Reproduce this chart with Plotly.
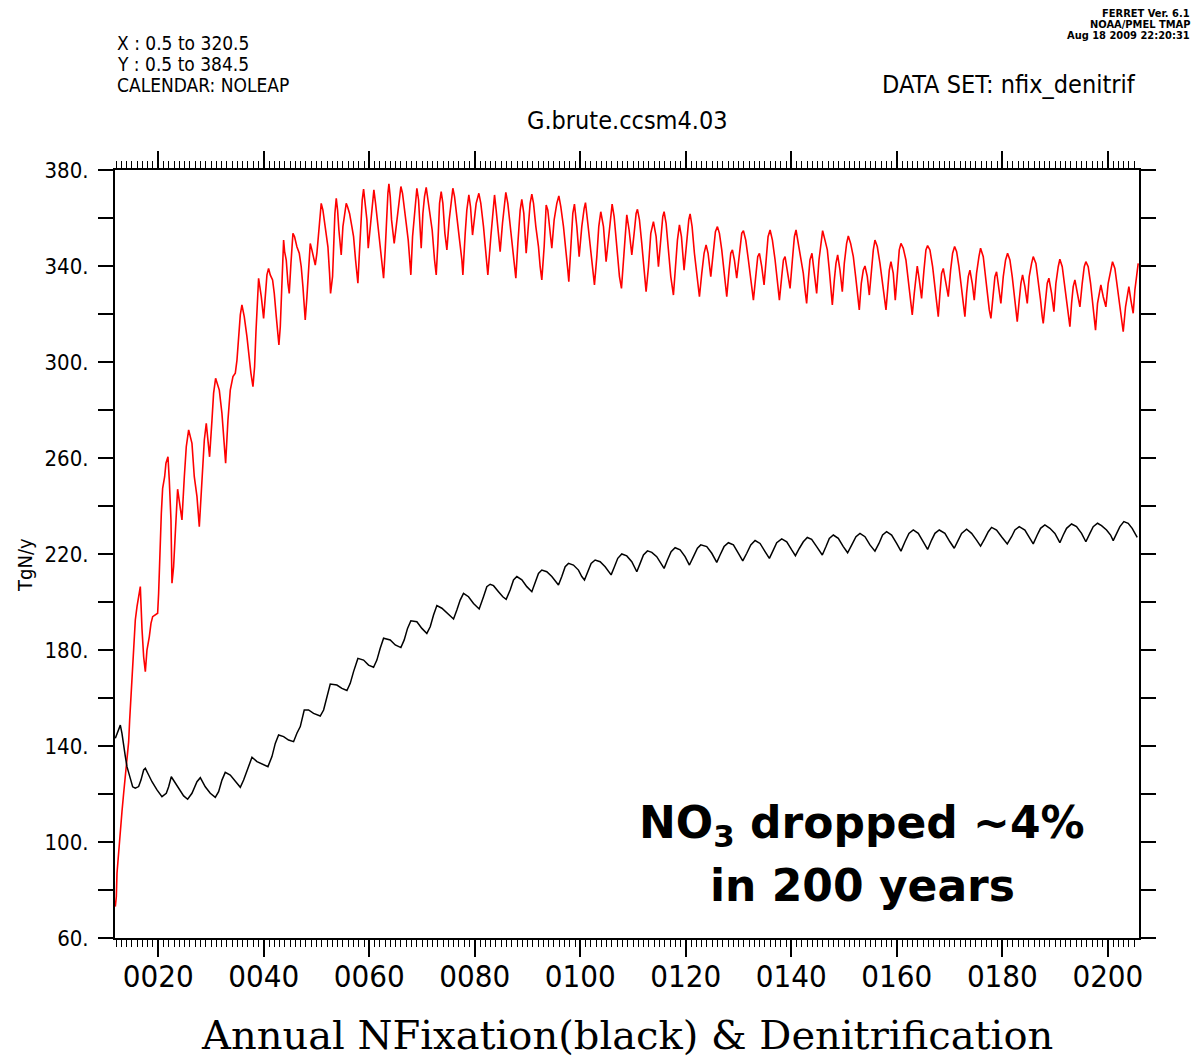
import plotly.graph_objects as go

# ---- Denitrification (red) ----
red_year = [11.86, 12.05, 12.18, 12.49, 12.81, 13.12, 13.44, 13.76, 14.07, 14.39, 14.58, 15.02, 15.34, 15.65, 15.97,
            16.28, 16.60, 16.91, 17.23, 17.55, 17.86, 18.30, 18.62, 18.94, 19.44, 19.88, 20.07, 20.26, 20.58, 20.83,
            21.21, 21.46, 21.84, 22.09, 22.41, 22.60, 22.91, 23.23, 23.67, 24.05, 24.49, 24.94, 25.31, 25.76, 26.39,
            26.83, 27.34, 27.78, 28.28, 28.73, 29.10, 29.36, 29.73, 30.18, 30.49, 30.87, 31.57, 32.07, 32.51, 32.77,
            33.21, 33.65, 34.16, 34.60, 34.92, 35.23, 35.55, 35.86, 36.30, 36.81, 37.25, 37.57, 37.95, 38.26, 38.52,
            38.83, 39.02, 39.21, 39.53, 39.97, 40.28, 40.60, 40.91, 41.23, 41.67, 41.99, 42.37, 42.68, 42.87, 43.13,
            43.32, 43.57, 43.76, 43.95, 44.26, 44.58, 44.83, 45.15, 45.53, 45.84, 46.28, 46.73, 47.10, 47.42, 47.67,
            47.86, 48.18, 48.49, 48.81, 49.12, 49.44, 49.76, 50.07, 50.39, 50.70, 50.89, 51.21, 51.46, 51.78, 52.16,
            52.47, 52.66, 53.04, 53.23, 53.48, 53.74, 53.99, 54.24, 54.49, 54.68, 55.00, 55.31, 55.63, 55.88, 56.26,
            56.70, 57.02, 57.40, 57.65, 57.84, 58.09, 58.41, 58.66, 58.92, 59.23, 59.55, 59.80, 60.05, 60.37, 60.62,
            60.87, 61.19, 61.57, 61.95, 62.26, 62.58, 62.71, 63.02, 63.27, 63.53, 63.72, 63.97, 64.22, 64.47, 64.72,
            65.10, 65.42, 65.74, 65.99, 66.30, 66.62, 67.00, 67.38, 67.63, 67.88, 68.20, 68.52, 68.83, 69.02, 69.34,
            69.65, 69.84, 70.16, 70.47, 70.79, 71.17, 71.55, 71.92, 72.37, 72.69, 73.00, 73.32, 73.63, 73.95, 74.33,
            74.71, 75.15, 75.53, 75.84, 76.16, 76.60, 77.11, 77.55, 77.74, 78.18, 78.49, 78.87, 79.19, 79.57, 79.88,
            80.26, 80.77, 81.14, 81.65, 82.09, 82.47, 83.04, 83.42, 83.74, 84.05, 84.49, 84.81, 85.25, 85.57, 85.88,
            86.26, 86.70, 87.15, 87.53, 87.78, 88.16, 88.60, 88.91, 89.29, 89.74, 90.18, 90.49, 90.81, 91.13, 91.57,
            92.07, 92.39, 92.70, 93.15, 93.53, 93.84, 94.16, 94.60, 95.04, 95.55, 95.93, 96.30, 96.81, 97.32, 97.63,
            97.82, 98.20, 98.58, 98.89, 99.34, 99.78, 100.28, 100.73, 100.98, 101.42, 101.86, 102.30, 102.68, 103.13,
            103.50, 103.88, 104.39, 104.89, 105.40, 105.78, 106.03, 106.41, 106.92, 107.42, 107.80, 108.18, 108.56,
            108.81, 109.25, 109.76, 110.20, 110.58, 110.83, 111.21, 111.65, 112.09, 112.47, 112.92, 113.36, 113.86,
            114.37, 114.81, 115.32, 115.63, 115.88, 116.26, 116.70, 117.15, 117.65, 118.03, 118.41, 118.79, 119.17,
            119.67, 120.18, 120.56, 120.81, 121.19, 121.63, 122.07, 122.58, 123.02, 123.46, 123.84, 124.22, 124.73,
            125.23, 125.61, 125.99, 126.37, 126.81, 127.25, 127.76, 128.20, 128.52, 128.83, 129.21, 129.65, 130.16,
            130.60, 130.92, 131.36, 131.86, 132.31, 132.81, 133.25, 133.63, 133.95, 134.39, 134.83, 135.21, 135.59,
            135.97, 136.41, 136.92, 137.36, 137.74, 138.18, 138.50, 138.81, 139.25, 139.76, 140.20, 140.58, 140.89,
            141.34, 142.27, 142.59, 142.90, 143.22, 143.53, 143.91, 144.29, 144.80, 145.24, 145.62, 145.93, 146.38,
            146.82, 147.20, 147.51, 147.77, 148.15, 148.46, 148.78, 149.22, 149.66, 150.04, 150.48, 150.80, 151.24,
            151.75, 152.19, 152.57, 152.88, 153.26, 153.64, 153.96, 154.40, 154.78, 155.22, 155.54, 155.85, 156.29,
            156.80, 157.24, 157.62, 157.94, 158.31, 158.57, 158.88, 159.32, 159.70, 160.08, 160.46, 160.78, 161.22,
            161.72, 162.17, 162.61, 162.92, 163.30, 163.62, 163.87, 164.25, 164.69, 165.14, 165.51, 165.83, 166.27,
            166.78, 167.22, 167.66, 167.85, 168.17, 168.48, 168.80, 169.24, 169.75, 170.19, 170.57, 170.95, 171.33,
            171.77, 172.27, 172.59, 172.90, 173.22, 173.54, 173.85, 174.29, 174.67, 175.11, 175.56, 175.87, 176.38,
            176.82, 177.20, 177.52, 177.83, 178.27, 178.59, 178.90, 179.35, 179.72, 180.17, 180.61, 180.99, 181.43,
            181.87, 182.25, 182.57, 182.82, 183.20, 183.52, 183.83, 184.27, 184.72, 185.09, 185.54, 185.85, 186.36,
            186.80, 187.24, 187.56, 187.75, 188.19, 188.51, 188.82, 189.33, 189.77, 190.15, 190.59, 190.90, 191.35,
            191.73, 192.17, 192.55, 192.80, 193.12, 193.43, 193.75, 194.19, 194.70, 195.14, 195.52, 195.83, 196.27,
            196.72, 197.10, 197.41, 197.66, 198.04, 198.36, 198.67, 199.12, 199.62, 200.06, 200.51, 200.88, 201.33,
            201.77, 202.15, 202.59, 202.91, 203.35, 203.73, 203.98, 204.36, 204.80, 205.12, 205.43, 205.75]
red_val = [73.1, 77.2, 87.0, 96.7, 103.6, 112.6, 120.3, 128.6, 135.6, 141.8, 150.8, 166.1, 181.4, 192.5, 198.1,
           201.5, 206.4, 189.0, 177.2, 171.0, 180.0, 185.5, 191.1, 193.9, 194.6, 195.3, 203.6, 218.9, 236.9, 247.4,
           252.2, 257.8, 260.5, 250.8, 234.2, 207.8, 214.7, 228.6, 247.0, 241.1, 234.2, 252.2, 264.7, 271.7, 266.1,
           252.2, 243.9, 231.4, 252.2, 267.5, 274.4, 268.9, 260.5, 275.8, 287.0, 293.2, 288.3, 278.6, 263.3, 257.8,
           275.8, 288.3, 293.9, 295.3, 300.8, 310.6, 319.6, 323.8, 318.9, 310.6, 300.8, 295.3, 289.7, 298.0, 312.6,
           327.2, 334.9, 332.0, 327.2, 318.2, 328.6, 336.3, 339.0, 336.3, 334.2, 328.6, 318.9, 312.0, 307.1, 314.7,
           328.6, 342.5, 350.8, 346.0, 342.5, 332.8, 328.6, 341.1, 353.6, 352.2, 348.0, 345.3, 339.7, 331.4, 323.0,
           317.5, 327.2, 337.0, 349.4, 346.7, 343.9, 340.4, 345.3, 352.9, 361.9, 366.1, 363.3, 359.2, 355.0, 348.0,
           337.0, 328.6, 335.6, 348.0, 361.9, 368.2, 363.3, 355.0, 348.0, 344.6, 356.4, 360.6, 366.1, 364.7, 361.9,
           356.4, 352.2, 342.5, 337.0, 332.8, 343.9, 359.2, 367.5, 372.0, 366.1, 359.2, 347.4, 353.6, 361.9, 368.9,
           371.7, 366.1, 357.8, 349.4, 342.5, 338.3, 334.9, 346.7, 360.6, 370.3, 374.2, 368.9, 359.2, 352.9, 349.4,
           356.4, 363.3, 370.3, 373.1, 370.3, 363.3, 357.8, 350.8, 342.5, 336.3, 352.2, 360.6, 368.9, 372.4, 367.5,
           352.2, 347.4, 361.9, 368.9, 372.8, 367.5, 360.6, 355.0, 342.5, 336.3, 349.4, 366.1, 371.0, 366.1, 353.6,
           346.7, 359.2, 367.5, 372.4, 368.9, 359.2, 350.8, 342.5, 336.3, 353.6, 363.3, 369.6, 364.7, 352.9, 359.2,
           366.1, 370.3, 366.1, 356.4, 343.9, 336.3, 352.2, 363.3, 369.6, 363.3, 353.6, 346.0, 357.8, 366.1, 370.7,
           366.1, 356.4, 348.1, 339.7, 334.9, 349.4, 363.3, 367.8, 361.9, 345.3, 357.8, 366.1, 369.9, 366.1, 356.4,
           348.1, 339.7, 334.2, 348.1, 365.4, 363.3, 356.4, 347.4, 359.2, 366.1, 369.2, 364.7, 356.4, 346.7, 338.3,
           333.5, 349.4, 361.9, 365.8, 356.4, 343.9, 356.4, 364.0, 366.4, 357.8, 349.4, 341.1, 332.1, 343.9,
           356.4, 362.6, 356.4, 341.8, 353.6, 363.3, 365.8, 360.6, 348.1, 335.6, 330.7, 342.5, 356.4,
           361.3, 355.0, 344.6, 353.6, 361.9, 363.6, 359.2, 349.4, 338.3, 329.3, 339.7, 353.6, 358.5,
           352.2, 339.7, 352.2, 360.6, 362.6, 357.8, 346.7, 335.6, 327.9, 338.3, 350.8, 357.1, 352.2,
           338.3, 350.8, 359.2, 361.7, 356.4, 345.3, 335.6, 327.2, 336.9, 345.3, 348.8, 345.3, 335.6,
           348.1, 354.3, 356.4, 353.6, 346.7, 338.3, 327.2, 338.3, 345.3, 346.7, 342.5, 334.9, 346.7,
           353.6, 354.7, 350.8, 342.5, 334.2, 325.8, 335.6, 343.9, 345.3, 339.7, 332.1, 342.5, 352.2,
           355.0, 350.8, 342.5, 334.2, 325.8, 335.6, 342.5, 343.9, 338.3, 330.7, 342.5, 352.2, 355.0,
           349.4, 336.9, 330.0, 324.4, 334.2, 342.5, 345.3, 338.3, 328.6, 342.5, 350.8, 354.7, 350.8,
           346.7, 338.3, 330.0, 323.8, 334.2, 341.1, 344.6, 338.3, 329.3, 341.1, 349.4, 352.5, 349.4,
           343.9, 335.6, 327.2, 321.7, 332.8, 338.3, 340.0, 335.6, 327.9, 339.7, 346.7, 350.8, 348.1,
           341.1, 332.8, 325.8, 321.7, 331.4, 338.3, 341.8, 336.9, 325.8, 338.3, 346.7, 349.4, 347.4,
           342.5, 332.8, 324.4, 319.6, 328.6, 336.9, 340.0, 334.2, 326.5, 338.3, 346.7, 348.5, 346.7,
           339.7, 331.4, 323.0, 318.9, 328.6, 336.9, 339.0, 332.8, 327.2, 338.3, 345.3, 348.1, 346.0,
           339.7, 330.0, 323.0, 318.9, 328.6, 335.6, 338.3, 332.8, 325.8, 336.9, 343.9, 347.4, 343.9,
           335.6, 327.2, 321.7, 318.2, 328.6, 335.6, 337.6, 331.4, 324.4, 335.6, 342.5, 345.3, 342.5,
           335.6, 327.2, 320.3, 316.8, 325.8, 332.8, 336.3, 331.4, 324.4, 335.6, 341.1, 343.9, 341.1,
           334.2, 325.8, 318.9, 316.1, 325.8, 332.8, 334.9, 328.6, 321.0, 332.8, 339.7, 342.8, 339.7,
           332.8, 324.4, 317.5, 314.7, 324.4, 331.4, 334.2, 328.6, 323.0, 332.8, 339.7, 341.8, 339.7,
           332.8, 324.4, 317.5, 313.3, 324.4, 328.6, 332.1, 327.2, 323.0, 332.8, 338.3, 341.8, 339.0,
           331.4, 324.4, 317.5, 312.6, 323.0, 328.6, 331.4, 325.8, 320.3, 330.0, 336.9, 341.1]

# ---- N fixation (black) ----
black_year = [11.86, 12.18, 12.49, 12.81, 13.12, 13.44, 13.76, 14.07, 14.39, 14.70, 15.15, 15.65, 16.28, 16.72, 17.23,
              17.55, 18.18, 18.81, 19.76, 20.70, 21.52, 21.97, 22.47, 22.91, 23.86, 24.81, 25.57, 26.39, 27.34, 27.97,
              28.91, 29.86, 30.81, 31.44, 32.07, 32.70, 33.65, 34.60, 35.55, 36.18, 37.13, 37.76, 38.71, 39.97, 40.79,
              41.55, 42.18, 42.81, 43.76, 44.70, 45.65, 46.28, 46.92, 47.67, 48.49, 49.44, 50.70, 51.34, 51.97, 52.60,
              53.86, 54.81, 55.76, 56.39, 57.02, 57.84, 58.92, 59.86, 60.81, 61.44, 62.07, 62.71, 63.97, 64.92, 65.99,
              66.62, 67.25, 67.88, 69.02, 69.97, 70.91, 71.55, 72.18, 72.81, 73.76, 75.02, 75.97, 76.60, 77.23, 77.86,
              78.81, 79.76, 80.83, 81.65, 82.28, 82.91, 83.55, 84.49, 85.31, 85.95, 86.70, 87.34, 87.97, 88.92, 89.86,
              90.81, 91.44, 92.07, 92.70, 93.65, 94.60, 95.36, 95.86, 96.49, 97.13, 97.76, 98.70, 99.65, 100.28, 100.79,
              101.42, 102.05, 102.81, 103.76, 104.71, 105.34, 105.84, 106.47, 107.10, 107.86, 108.81, 109.76, 110.71,
              111.34, 111.97, 112.73, 113.55, 114.49, 115.44, 115.88, 116.52, 117.21, 117.97, 118.92, 119.86, 120.68,
              121.44, 122.20, 122.83, 123.97, 124.92, 125.86, 126.49, 127.25, 128.07, 129.02, 129.97, 130.79, 131.55,
              132.31, 133.13, 134.07, 135.02, 135.84, 136.60, 137.23, 138.18, 139.13, 140.07, 140.77, 141.53, 142.27,
              143.03, 143.85, 144.80, 145.43, 145.87, 146.57, 147.20, 147.96, 148.90, 149.85, 150.67, 151.43, 152.25,
              153.01, 153.96, 154.90, 155.85, 156.61, 157.30, 158.06, 159.01, 159.96, 160.78, 161.54, 162.29, 163.11,
              164.06, 165.01, 165.83, 166.59, 167.22, 168.04, 169.11, 170.06, 170.88, 171.64, 172.27, 173.22, 174.17,
              175.11, 175.87, 176.69, 177.33, 177.96, 178.90, 179.85, 180.93, 181.75, 182.38, 183.20, 184.27, 185.22,
              185.85, 186.61, 187.24, 188.06, 189.01, 189.96, 190.90, 191.54, 192.17, 193.12, 194.06, 195.01, 195.83,
              196.59, 197.22, 198.04, 198.80, 199.75, 200.51, 201.01, 201.64, 202.28, 203.03, 203.85, 204.61, 205.12,
              205.56]
black_val = [143.2, 145.3, 146.7, 148.7, 145.3, 139.7, 135.6, 131.4, 129.3, 126.5, 123.0, 122.4, 123.1, 125.8, 130.0,
             130.7, 127.9, 125.1, 121.7, 118.9, 120.3, 123.0, 127.2, 125.8, 122.4, 119.2, 117.8, 120.3, 125.1, 126.8,
             123.0, 120.3, 118.6, 121.0, 125.8, 129.0, 127.9, 125.1, 122.8, 125.8, 131.4, 135.3, 133.5, 132.1, 131.4,
             135.6, 141.1, 144.6, 143.9, 142.5, 141.8, 145.3, 148.1, 155.0, 155.0, 153.6, 152.5, 155.0, 160.6, 165.8,
             165.4, 164.0, 163.1, 166.1, 171.0, 176.5, 175.8, 173.7, 172.8, 175.8, 180.7, 184.9, 184.2, 182.1, 181.0,
             184.2, 189.0, 192.2, 191.8, 189.0, 186.9, 189.7, 194.6, 198.5, 197.4, 194.6, 192.9, 196.7, 200.8, 203.6,
             202.2, 199.4, 197.1, 202.2, 206.4, 207.4, 206.8, 204.3, 202.2, 201.1, 205.0, 209.2, 210.6, 209.2, 206.4,
             204.3, 207.8, 211.9, 213.3, 212.6, 210.6, 208.5, 207.1, 210.6, 214.7, 216.1, 215.4, 213.3, 210.6, 209.2,
             212.6, 216.1, 217.5, 216.8, 214.7, 212.6, 211.3, 214.7, 218.2, 220.0, 219.2, 216.8, 212.6,
             216.1, 219.6, 221.3, 220.7, 218.9, 215.4, 214.0, 217.5, 221.0, 222.6, 221.7, 218.9, 215.4,
             218.9, 222.4, 223.8, 223.1, 220.3, 216.5, 219.6, 223.1, 224.7, 223.8, 220.3, 217.1, 220.3,
             223.8, 225.6, 224.4, 221.0, 218.2, 221.7, 224.7, 226.3, 225.1, 221.7, 219.3, 222.4, 225.1,
             226.9, 226.1, 223.1, 221.0, 219.6, 223.1, 226.5, 227.9, 226.5, 223.1, 220.5, 223.7, 227.2,
             228.6, 227.2, 223.8, 221.2, 224.4, 227.9, 229.3, 227.9, 224.4, 221.2, 225.1, 228.6, 230.0,
             228.6, 225.1, 221.9, 225.8, 228.6, 230.0, 228.6, 225.1, 222.4, 225.8, 228.6, 230.3, 228.6,
             225.8, 223.3, 226.5, 229.3, 231.1, 230.0, 227.2, 224.2, 227.2, 230.0, 231.4, 230.0, 226.5,
             224.2, 227.9, 230.7, 232.1, 230.7, 228.6, 224.7, 227.9, 230.7, 232.5, 231.4, 228.6, 225.1,
             228.6, 231.4, 232.8, 231.8, 230.0, 227.9, 225.6, 228.6, 231.4, 233.5, 232.8, 230.7, 228.6,
             226.9]

x_tick_vals = [20, 40, 60, 80, 100, 120, 140, 160, 180, 200]
x_tick_text = ["0020", "0040", "0060", "0080", "0100", "0120", "0140", "0160", "0180", "0200"]
y_tick_vals = [60, 100, 140, 180, 220, 260, 300, 340, 380]
y_tick_text = ["60.", "100.", "140.", "180.", "220.", "260.", "300.", "340.", "380."]

fig = go.Figure()
fig.add_trace(go.Scatter(x=red_year, y=red_val, mode="lines",
                         line=dict(color="#ff0000", width=1.6), showlegend=False))
fig.add_trace(go.Scatter(x=black_year, y=black_val, mode="lines",
                         line=dict(color="#000000", width=1.5), showlegend=False))

sans = "Liberation Sans Narrow, DejaVu Sans Condensed, Liberation Sans, Arial"

fig.update_xaxes(range=[11.8, 205.9], tickvals=x_tick_vals, ticktext=x_tick_text,
                 ticks="outside", ticklen=17, tickwidth=1.5, tickcolor="black",
                 minor=dict(dtick=1, tick0=0, ticks="outside", ticklen=7, tickwidth=1, tickcolor="black"),
                 showline=True, linecolor="black", linewidth=2, mirror="ticks",
                 showgrid=False, zeroline=False,
                 tickfont=dict(family=sans, size=31, color="black"), ticklabelstandoff=-7)
fig.update_yaxes(range=[60, 380], tickvals=y_tick_vals, ticktext=y_tick_text,
                 ticks="outside", ticklen=15, tickwidth=1.5, tickcolor="black",
                 minor=dict(dtick=20, tick0=60, ticks="outside", ticklen=15, tickwidth=1.5, tickcolor="black"),
                 showline=True, linecolor="black", linewidth=2, mirror="ticks",
                 showgrid=False, zeroline=False,
                 tickfont=dict(family=sans, size=22, color="black"), ticklabelstandoff=5)

def txt(text, x, y, size, xanchor="left", family=sans, **kw):
    fig.add_annotation(text=text, x=x, y=y, xref="paper", yref="paper", showarrow=False,
                       xanchor=xanchor, yanchor="middle", font=dict(family=family, size=size, color="black"), **kw)

txt("X : 0.5 to 320.5", 0.0, 1.1654, 19)
txt("Y : 0.5 to 384.5", 0.0, 1.138, 19)
txt("CALENDAR: NOLEAP", 0.0, 1.1107, 19)
txt("DATA SET: nfix_denitrif", 0.999, 1.1107, 25, xanchor="right")
txt("G.brute.ccsm4.03", 0.5, 1.0651, 25, xanchor="center")
txt("<b>FERRET Ver. 6.1</b>", 1.0518, 1.2040, 11, xanchor="right")
txt("<b>NOAA/PMEL TMAP</b>", 1.0518, 1.1900, 11, xanchor="right")
txt("<b>Aug 18 2009 22:20:31</b>", 1.0518, 1.1750, 11, xanchor="right")
txt("TgN/y", -0.0879, 0.4857, 20, xanchor="center", textangle=-90)
txt("Annual NFixation(black) &amp; Denitrification", 0.5, -0.1265, 40, xanchor="center",
    family="DejaVu Serif, Liberation Serif, serif")
txt("<b>NO<sub>3</sub> dropped ~4%</b>", 0.7295, 0.1471, 44, xanchor="center",
    family="DejaVu Sans, sans-serif")
txt("<b>in 200 years</b>", 0.7295, 0.069, 44, xanchor="center",
    family="DejaVu Sans, sans-serif")

# page body adds an 8px offset, so the figure is drawn 8px smaller and shifted margins
fig.update_layout(width=1196, height=1051, margin=dict(l=107, r=65, t=162, b=121),
                  plot_bgcolor="white", paper_bgcolor="white")

fig.write_html("out.html")
